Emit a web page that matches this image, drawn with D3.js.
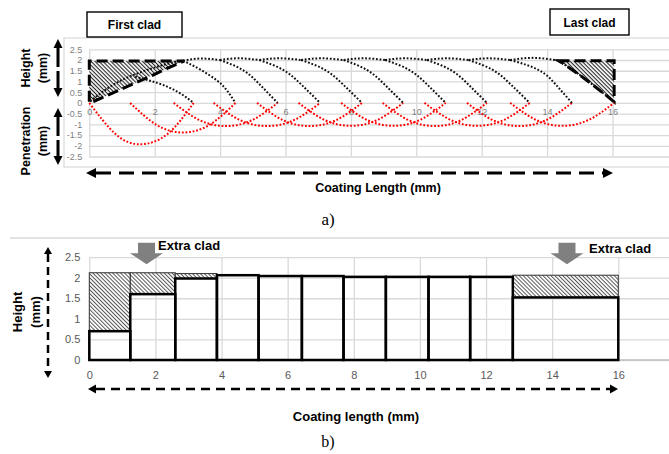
<!DOCTYPE html>
<html>
<head>
<meta charset="utf-8">
<script src="https://cdn.jsdelivr.net/npm/d3@7"></script>
<style>
  body { margin: 0; background: #fff; }
  svg { display: block; font-family: "Liberation Sans", Arial, sans-serif; }
</style>
</head>
<body>
<svg width="669" height="454"></svg>
<script>
// ---- panel a data ----
const heightTicksA = [-2.5, -2, -1.5, -1, -0.5, 0, 0.5, 1, 1.5, 2, 2.5];
const lengthTicks = [0, 2, 4, 6, 8, 10, 12, 14, 16];
const gridX = [0, 2, 4, 6, 8, 10, 12, 14, 16, 18];

const firstExtra = [[0, 0.05], [0, 1.95], [2.9, 1.95], [2.4, 1.62], [1.95, 1.3], [0.15, 0.08]];
const lastExtra = [[14.35, 1.97], [16.05, 1.97], [16.05, 0.05], [15.5, 0.72], [15.0, 1.3], [14.45, 1.88]];

const riseCurve = [[0.03, 0.08], [0.9, 0.99], [1.92, 1.61], [2.63, 1.92], [2.87, 1.97]];
const firstDrop = [[1.4, 1.22], [2.1, 0.92], [2.7, 0.52], [3.19, 0]];
const cladDrops = [
  [[2.87, 1.97], [3.4, 1.55], [3.9, 1.05], [4.2, 0.6], [4.47, 0]],
  [[3.99, 2.0], [4.7, 1.53], [5.23, 0.83], [5.76, 0]],
  [[5.2, 2.0], [5.94, 1.53], [6.5, 0.83], [7.06, 0]],
  [[6.48, 2.0], [7.22, 1.53], [7.78, 0.83], [8.34, 0]],
  [[7.78, 2.0], [8.5, 1.53], [9.05, 0.83], [9.6, 0]],
  [[9.05, 2.0], [9.79, 1.53], [10.35, 0.83], [10.9, 0]],
  [[10.33, 2.0], [11.06, 1.53], [11.61, 0.83], [12.16, 0]],
  [[11.6, 2.0], [12.35, 1.53], [12.91, 0.83], [13.47, 0]],
  [[12.87, 2.0], [13.75, 1.53], [14.28, 0.83], [14.76, 0]],
  [[14.35, 1.97], [15.0, 1.3], [15.5, 0.72], [16.05, 0.05]]
];
const topArcs = [
  [[2.87, 1.97], [3.42, 2.07], [3.99, 2.0]],
  [[3.99, 2.0], [4.55, 2.08], [5.2, 2.0]],
  [[5.2, 2.0], [5.8, 2.08], [6.48, 2.0]],
  [[6.48, 2.0], [7.08, 2.08], [7.78, 2.0]],
  [[7.78, 2.0], [8.38, 2.08], [9.05, 2.0]],
  [[9.05, 2.0], [9.65, 2.08], [10.33, 2.0]],
  [[10.33, 2.0], [10.93, 2.08], [11.6, 2.0]],
  [[11.6, 2.0], [12.2, 2.08], [12.87, 2.0]],
  [[12.87, 2.0], [13.6, 2.1], [14.35, 1.97]]
];
const penetration = [
  [[0, 0], [0.8, -1.45], [1.55, -1.93], [2.39, -1.45], [3.19, 0]],
  [[1.25, 0], [2.06, -1.03], [2.86, -1.38], [3.67, -1.03], [4.47, 0]],
  [[2.58, 0], [3.38, -0.81], [4.17, -1.08], [4.97, -0.81], [5.76, 0]],
  [[3.8, 0], [4.62, -0.81], [5.43, -1.08], [6.25, -0.81], [7.06, 0]],
  [[5.13, 0], [5.93, -0.81], [6.74, -1.08], [7.54, -0.81], [8.34, 0]],
  [[6.4, 0], [7.2, -0.8], [8.0, -1.07], [8.8, -0.8], [9.6, 0]],
  [[7.7, 0], [8.5, -0.8], [9.3, -1.07], [10.1, -0.8], [10.9, 0]],
  [[8.97, 0], [9.77, -0.81], [10.57, -1.08], [11.36, -0.81], [12.16, 0]],
  [[10.25, 0], [11.06, -0.8], [11.86, -1.07], [12.67, -0.8], [13.47, 0]],
  [[11.55, 0], [12.35, -0.81], [13.16, -1.08], [13.96, -0.81], [14.76, 0]],
  [[12.87, 0], [13.67, -0.8], [14.46, -1.07], [15.26, -0.8], [16.05, 0]]
];

// ---- panel b data ----
const heightTicksB = [0, 0.5, 1, 1.5, 2, 2.5];
const barEdges = [0, 1.24, 2.6, 3.86, 5.12, 6.43, 7.69, 8.97, 10.26, 11.52, 12.81, 16.0];
const barHeights = [0.7, 1.6, 1.98, 2.06, 2.04, 2.04, 2.02, 2.02, 2.02, 2.02, 1.52];
const extraTops = [2.12, 2.12, 2.1, null, null, null, null, null, null, null, 2.06];

const svg = d3.select("svg");
const defs = svg.append("defs");

const hatch = (id, gap, color, w) => {
  const p = defs.append("pattern")
    .attr("id", id)
    .attr("patternUnits", "userSpaceOnUse")
    .attr("width", gap).attr("height", gap)
    .attr("patternTransform", "rotate(-45)");
  p.append("rect").attr("width", gap).attr("height", gap).attr("fill", "#fff");
  p.append("line").attr("x1", gap / 2).attr("y1", 0).attr("x2", gap / 2).attr("y2", gap)
    .attr("stroke", color).attr("stroke-width", w);
};
hatch("hatchA", 2.8, "#222", 1.1);
hatch("hatchB", 2.8, "#555", 1);

const arrow = (x1, y1, x2, y2, o) => {
  const dx = x2 - x1, dy = y2 - y1, L = Math.hypot(dx, dy);
  const ux = dx / L, uy = dy / L, nx = -uy, ny = ux;
  const g = svg.append("g");
  g.append("line")
    .attr("x1", x1 + ux * o.head).attr("y1", y1 + uy * o.head)
    .attr("x2", x2 - ux * o.head).attr("y2", y2 - uy * o.head)
    .attr("stroke", "#000").attr("stroke-width", o.w)
    .attr("stroke-dasharray", o.dash);
  const tri = (tx, ty, sx, sy) => {
    const bx = tx - sx * o.head, by = ty - sy * o.head;
    g.append("path")
      .attr("d", `M${tx},${ty}L${bx + nx * o.half},${by + ny * o.half}L${bx - nx * o.half},${by - ny * o.half}Z`)
      .attr("fill", "#000");
  };
  tri(x2, y2, ux, uy);
  tri(x1, y1, -ux, -uy);
};

// ================= panel a =================
const xA = d3.scaleLinear().domain([0, 18]).range([89.3, 677.9]);
const yA = d3.scaleLinear().domain([-2.5, 2.5]).range([156.5, 49.3]);

svg.append("rect").attr("x", 64).attr("y", 38).attr("width", 700).attr("height", 129)
  .attr("fill", "none").attr("stroke", "#d9d9d9").attr("stroke-width", 1.2);

const gridA = svg.append("g");
gridA.append("g")
  .attr("transform", `translate(0,${yA(-2.5)})`)
  .call(d3.axisBottom(xA).tickValues(gridX).tickSize(-(yA(-2.5) - yA(2.5))).tickFormat(""));
gridA.append("g")
  .attr("transform", `translate(${xA(0)},0)`)
  .call(d3.axisLeft(yA).tickValues(heightTicksA).tickSize(-(669 - xA(0))).tickFormat(""));
gridA.selectAll(".domain").remove();
gridA.selectAll(".tick line").attr("stroke", "#d9d9d9").attr("stroke-width", 1.3);

const yAxisA = svg.append("g")
  .attr("transform", `translate(${xA(0)},0)`)
  .call(d3.axisLeft(yA).tickValues(heightTicksA).tickSize(0).tickPadding(7).tickFormat(d => String(d)));
const xAxisA = svg.append("g")
  .attr("transform", `translate(0,${yA(0)})`)
  .call(d3.axisBottom(xA).tickValues(lengthTicks).tickSize(0).tickPadding(6).tickFormat(d => String(d)));
[yAxisA, xAxisA].forEach(a => {
  a.select(".domain").remove();
  a.selectAll("text").attr("fill", "#7f7f7f").style("font-size", "9px").style("font-family", "Liberation Sans, Arial");
});

const lineA = d3.line().x(d => xA(d[0])).y(d => yA(d[1])).curve(d3.curveNatural);

// hatched extra regions
[firstExtra, lastExtra].forEach(poly => {
  svg.append("path")
    .attr("d", d3.line().x(d => xA(d[0])).y(d => yA(d[1]))(poly) + "Z")
    .attr("fill", "url(#hatchA)")
    .attr("stroke", "#000").attr("stroke-width", 3)
    .attr("stroke-dasharray", "11,5");
});

// penetration (red)
svg.append("g").selectAll("path").data(penetration).join("path")
  .attr("d", lineA).attr("fill", "none")
  .attr("stroke", "#ff0000").attr("stroke-width", 2)
  .attr("stroke-dasharray", "1.8,1.8");

// clad height (black)
svg.append("g").selectAll("path")
  .data([riseCurve, firstDrop, ...cladDrops, ...topArcs]).join("path")
  .attr("d", lineA).attr("fill", "none")
  .attr("stroke", "#111").attr("stroke-width", 2)
  .attr("stroke-dasharray", "1.8,1.8");

// labels
const boxLabel = (x, y, w, h, text) => {
  svg.append("rect").attr("x", x).attr("y", y).attr("width", w).attr("height", h)
    .attr("fill", "#fff").attr("stroke", "#000").attr("stroke-width", 1.4);
  svg.append("text").attr("x", x + w / 2).attr("y", y + h / 2 + 4.5)
    .attr("text-anchor", "middle").attr("font-weight", "bold").attr("font-size", 12)
    .text(text);
};
boxLabel(87, 12, 95, 25, "First clad");
boxLabel(550, 9, 79, 26, "Last clad");

const rotLabel = (cx, cy, lines, size) => {
  const t = svg.append("text")
    .attr("transform", `translate(${cx},${cy}) rotate(-90)`)
    .attr("text-anchor", "middle").attr("font-weight", "bold").attr("font-size", size);
  lines.forEach((s, i) => {
    t.append("tspan").attr("x", 0).attr("dy", i === 0 ? 0 : size * 1.35).text(s);
  });
};
rotLabel(30, 68, ["Height", "(mm)"], 12.5);
rotLabel(30, 141, ["Penetration", "(mm)"], 12.5);

arrow(58, 39, 58, 97, { w: 3, head: 9, half: 4.5, dash: "19,4" });
arrow(58, 108, 58, 165, { w: 3, head: 9, half: 4.5, dash: "19,4" });
arrow(86, 173, 613, 173, { w: 3, head: 10, half: 5, dash: "15,8" });

svg.append("text").attr("x", 378).attr("y", 192).attr("text-anchor", "middle")
  .attr("font-weight", "bold").attr("font-size", 12.5).text("Coating Length (mm)");
svg.append("text").attr("x", 328).attr("y", 225).attr("text-anchor", "middle")
  .attr("font-family", "Liberation Serif, serif").attr("font-size", 17).text("a)");

// ================= panel b =================
const xB = d3.scaleLinear().domain([0, 18]).range([89.3, 684.4]);
const yB = d3.scaleLinear().domain([0, 2.5]).range([360, 257.1]);

svg.append("line").attr("x1", 10).attr("x2", 669).attr("y1", 238).attr("y2", 238)
  .attr("stroke", "#c8c8c8").attr("stroke-width", 1.2);

const gridB = svg.append("g");
gridB.append("g")
  .attr("transform", `translate(0,${yB(0)})`)
  .call(d3.axisBottom(xB).tickValues(gridX).tickSize(-(yB(0) - yB(2.5))).tickFormat(""));
gridB.append("g")
  .attr("transform", `translate(${xB(0)},0)`)
  .call(d3.axisLeft(yB).tickValues(heightTicksB).tickSize(-(669 - xB(0))).tickFormat(""));
gridB.selectAll(".domain").remove();
gridB.selectAll(".tick line").attr("stroke", "#d9d9d9").attr("stroke-width", 1.3);

svg.append("line").attr("x1", xB(0)).attr("x2", 669).attr("y1", yB(0)).attr("y2", yB(0))
  .attr("stroke", "#bfbfbf").attr("stroke-width", 1.3);

const yAxisB = svg.append("g")
  .attr("transform", `translate(${xB(0)},0)`)
  .call(d3.axisLeft(yB).tickValues(heightTicksB).tickSize(0).tickPadding(9).tickFormat(d => String(d)));
const xAxisB = svg.append("g")
  .attr("transform", `translate(0,${yB(0)})`)
  .call(d3.axisBottom(xB).tickValues(lengthTicks).tickSize(0).tickPadding(11).tickFormat(d => String(d)));
[yAxisB, xAxisB].forEach(a => {
  a.select(".domain").remove();
  a.selectAll("text").attr("fill", "#595959").style("font-size", "11px").style("font-family", "Liberation Sans, Arial");
});

const bars = barHeights.map((h, i) => ({ x0: barEdges[i], x1: barEdges[i + 1], h, top: extraTops[i] }));

svg.append("g").selectAll("rect").data(bars.filter(d => d.top !== null)).join("rect")
  .attr("x", d => xB(d.x0)).attr("width", d => xB(d.x1) - xB(d.x0))
  .attr("y", d => yB(d.top)).attr("height", d => yB(d.h) - yB(d.top))
  .attr("fill", "url(#hatchB)").attr("stroke", "#333").attr("stroke-width", 1);

svg.append("g").selectAll("rect").data(bars).join("rect")
  .attr("x", d => xB(d.x0)).attr("width", d => xB(d.x1) - xB(d.x0))
  .attr("y", d => yB(d.h)).attr("height", d => yB(0) - yB(d.h))
  .attr("fill", "none").attr("stroke", "#000").attr("stroke-width", 2.5);

// extra clad arrows
const downArrow = (cx, top) => {
  svg.append("path")
    .attr("d", `M${cx - 8.5},${top}H${cx + 8.5}V${top + 10.5}H${cx + 16.5}L${cx},${top + 21.5}L${cx - 16.5},${top + 10.5}H${cx - 8.5}Z`)
    .attr("fill", "#808080");
};
downArrow(146.5, 242.7);
downArrow(567, 242.7);
svg.append("text").attr("x", 158).attr("y", 250).attr("font-weight", "bold").attr("font-size", 13).text("Extra clad");
svg.append("text").attr("x", 589).attr("y", 253).attr("font-weight", "bold").attr("font-size", 13).text("Extra clad");

rotLabel(22, 312, ["Height", "(mm)"], 13);
arrow(48, 247, 48, 378, { w: 2.5, head: 7, half: 4, dash: "8,5" });
arrow(88, 389, 618, 389, { w: 2.5, head: 8, half: 4.5, dash: "9,6" });

svg.append("text").attr("x", 356).attr("y", 421).attr("text-anchor", "middle")
  .attr("font-weight", "bold").attr("font-size", 13).text("Coating length (mm)");
svg.append("text").attr("x", 328).attr("y", 447).attr("text-anchor", "middle")
  .attr("font-family", "Liberation Serif, serif").attr("font-size", 16).text("b)");
</script>
</body>
</html>
